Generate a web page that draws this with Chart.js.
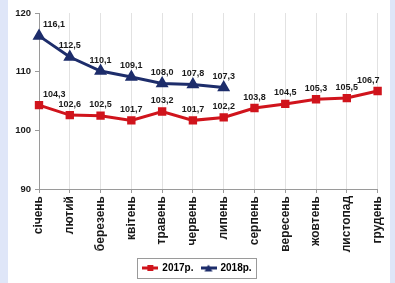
<!DOCTYPE html>
<html><head><meta charset="utf-8">
<script src="https://cdn.jsdelivr.net/npm/chart.js@4.4.0/dist/chart.umd.min.js"></script>
<style>
html,body{margin:0;padding:0;width:395px;height:283px;overflow:hidden;background:#dfe6f8;}
#bg{position:absolute;left:8px;top:0;width:382px;height:283px;background:#fff;}
#wrap{position:absolute;left:0;top:0;width:395px;height:283px;}
</style></head><body>
<div id="bg"></div>
<div id="wrap"><canvas id="c" width="395" height="283"></canvas></div>
<script>
const categories = ['січень','лютий','березень','квітень','травень','червень','липень','серпень','вересень','жовтень','листопад','грудень'];
const values2017 = [104.3,102.6,102.5,101.7,103.2,101.7,102.2,103.8,104.5,105.3,105.5,106.7];
const values2018 = [116.1,112.5,110.1,109.1,108.0,107.8,107.3];
const yTicks = [90,100,110,120];
const seriesNames = ['2017р.','2018р.'];

const RED = '#d0141c', BLUE = '#1d2d6b';
const FONT = 'Liberation Sans, Arial, sans-serif';

function legendIcon(color, style){
  const c = document.createElement('canvas'); c.width = 16; c.height = 8;
  const g = c.getContext('2d');
  g.strokeStyle = color; g.lineWidth = 3;
  g.beginPath(); g.moveTo(0,4); g.lineTo(16,4); g.stroke();
  g.fillStyle = color;
  if(style==='rect'){ g.fillRect(5,1,6,6); }
  else { g.beginPath(); g.moveTo(8,0.5); g.lineTo(12,7.5); g.lineTo(4,7.5); g.closePath(); g.fill(); }
  return c;
}

const labelPlugin = {
  id:'valLabels',
  afterDatasetsDraw(chart){
    const ctx = chart.ctx;
    ctx.save();
    ctx.font = 'bold 9px ' + FONT;
    ctx.fillStyle = '#1a1a1a';
    ctx.textBaseline = 'middle';
    const xs = chart.scales.x;
    const minX = xs.getPixelForValue(0) + 4, maxX = xs.getPixelForValue(categories.length-1) + 2;
    chart.data.datasets.forEach((ds,di)=>{
      const meta = chart.getDatasetMeta(di);
      meta.data.forEach((pt,i)=>{
        const txt = ds.data[i].toFixed(1).replace('.',',');
        const w = ctx.measureText(txt).width;
        let x = pt.x - w/2;
        if (x < minX) x = minX;
        if (x + w > maxX) x = maxX - w;
        ctx.textAlign = 'left';
        ctx.fillText(txt, x, pt.y - 11);
      });
    });
    ctx.restore();
  }
};

const legendBorder = {
  id:'legendBorder',
  afterDraw(chart){
    const lg = chart.legend; if(!lg || !lg.legendHitBoxes.length) return;
    const hb = lg.legendHitBoxes;
    const l = hb[0].left - 6, r = hb[hb.length-1].left + hb[hb.length-1].width + 5;
    const t = hb[0].top - 5, b = hb[0].top + hb[0].height + 5;
    const ctx = chart.ctx; ctx.save();
    ctx.strokeStyle = '#9a9a9a'; ctx.lineWidth = 1;
    ctx.strokeRect(Math.round(l)+0.5, Math.round(t)+0.5, Math.round(r-l), Math.round(b-t));
    ctx.restore();
  }
};

new Chart(document.getElementById('c'), {
  type:'line',
  data:{
    labels: categories,
    datasets:[
      {label: seriesNames[0], data: values2017, borderColor: RED, backgroundColor: RED, borderWidth: 3,
       pointStyle:'rect', pointRadius: 3.8, pointHoverRadius:3.8, tension:0, icon: legendIcon(RED,'rect')},
      {label: seriesNames[1], data: values2018, borderColor: BLUE, backgroundColor: BLUE, borderWidth: 3,
       pointStyle:'triangle', pointRadius: 4.5, pointHoverRadius:4.5, tension:0, icon: legendIcon(BLUE,'tri')}
    ]
  },
  options:{
    responsive:false, animation:false,
    layout:{padding:{left:0,right:0,top:13,bottom:0}},
    plugins:{
      tooltip:{enabled:false},
      legend:{
        position:'bottom',
        labels:{
          usePointStyle:true, pointStyleWidth:14, padding:8,
          font:{family:FONT, size:10, weight:'bold'}, color:'#1a1a1a',
          generateLabels(chart){
            return chart.data.datasets.map((ds,i)=>({text: ds.label, pointStyle: ds.icon, fillStyle: ds.borderColor,
              strokeStyle: ds.borderColor, lineWidth:0, datasetIndex:i, hidden:false}));
          }
        }
      }
    },
    scales:{
      x:{
        offset:false,
        grid:{color:'#e2e2e2', tickColor:'#9a9a9a', tickLength:4, drawOnChartArea:true},
        border:{color:'#9a9a9a', width:1},
        ticks:{minRotation:90, maxRotation:90, autoSkip:false, padding:3, color:'#1a1a1a',
               font:{family:FONT, size:12, weight:'bold'}},
        afterFit(s){ s.height = 66; }
      },
      y:{
        min:90, max:120,
        afterBuildTicks(s){ s.ticks = yTicks.map(v=>({value:v})); },
        grid:{drawOnChartArea:false, tickLength:4, tickColor:'#9a9a9a'},
        border:{color:'#9a9a9a', width:1},
        ticks:{color:'#1a1a1a', padding:4, font:{family:FONT, size:9.5, weight:'bold'}},
        afterFit(s){ s.width = 39; }
      },
      yRight:{
        position:'right', min:90, max:120,
        grid:{display:false}, border:{display:false}, ticks:{display:false},
        afterFit(s){ s.width = 14; }
      }
    }
  },
  plugins:[labelPlugin, legendBorder]
});
</script>
</body></html>
